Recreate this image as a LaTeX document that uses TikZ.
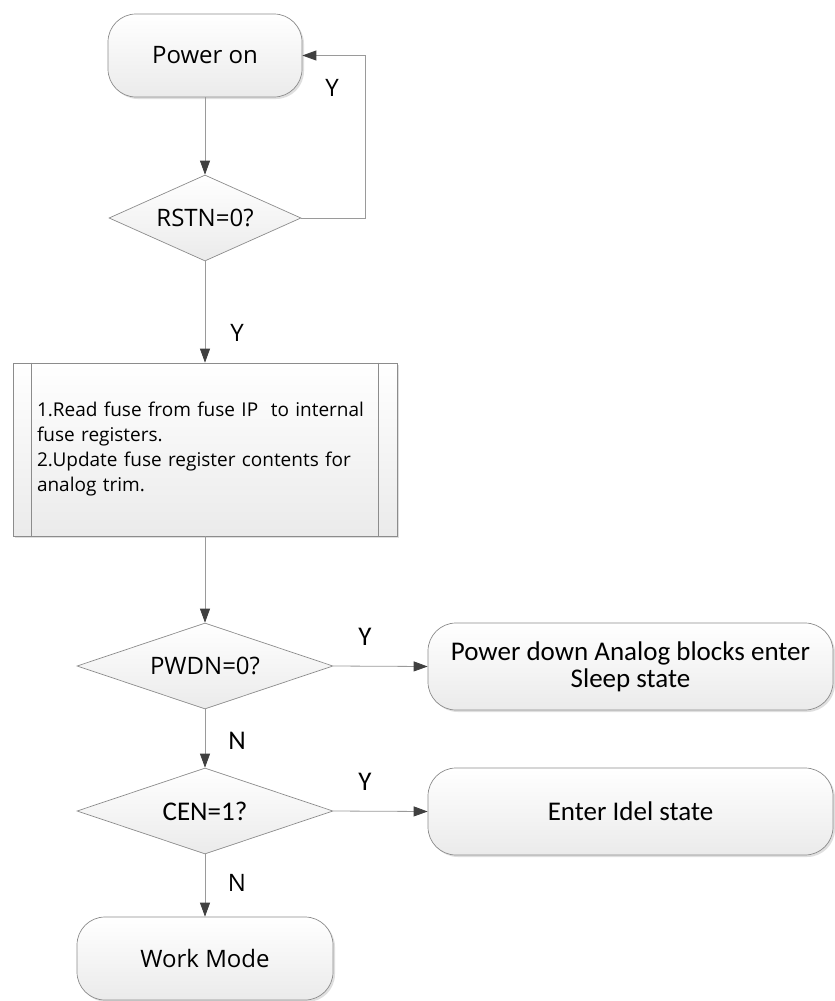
\documentclass[tikz,border=0pt]{standalone}
\usepackage{fontspec}
\newfontfamily\segfont{Open Sans}
\newfontfamily\calfontx{Carlito}
\usetikzlibrary{shapes.geometric,arrows.meta,shadows}
\definecolor{linegray}{HTML}{9A9A9A}
\definecolor{tipgray}{HTML}{404040}
\definecolor{edgegray}{HTML}{8C8C8C}
\begin{document}
\begin{tikzpicture}[x=1pt,y=-1pt,
  base/.style={draw=edgegray, line width=0.7pt, top color=white, bottom color=black!8, inner sep=0pt},
  term/.style={base, rectangle, rounded corners=28pt, drop shadow={shadow xshift=2pt, shadow yshift=-2pt, fill=black!25, opacity=0.5}},
  dec/.style={base, diamond, shape aspect=3, minimum width=256pt, minimum height=86pt},
  procbox/.style={base, rectangle, minimum width=384pt, minimum height=173pt, drop shadow={shadow xshift=2pt, shadow yshift=-2pt, fill=black!25, opacity=0.5}},
  conn/.style={draw=linegray, line width=0.8pt, -{Triangle[length=14pt, width=10pt, color=tipgray]}},
  segf/.style={font=\segfont\fontsize{24}{28}\selectfont},
  calf/.style={font=\calfontx\fontsize{27}{30}\selectfont},
]
\useasboundingbox (0,0) rectangle (835,1001);
\node[term, minimum width=194pt, minimum height=83pt, segf] (poweron) at (205,55.5) {Power on};
\node[dec, shape aspect=2.2, minimum width=192pt, segf] (rstn) at (205,218) {RSTN=0?};
\node[procbox, text width=336pt, align=left, font=\segfont\fontsize{19}{25}\selectfont] (proc) at (205,449.5)
  {1.Read fuse from fuse IP\ \ to internal\\fuse registers.\\2.Update fuse register contents for\\analog trim.};
\draw[edgegray, line width=0.7pt] ([xshift=19pt]proc.north west) -- ([xshift=19pt]proc.south west);
\draw[edgegray, line width=0.7pt] ([xshift=-19pt]proc.north east) -- ([xshift=-19pt]proc.south east);
\node[dec, segf] (pwdn) at (205,666) {PWDN=0?};
\node[term, minimum width=405pt, minimum height=87pt, align=center, font=\calfontx\fontsize{27}{27}\selectfont] (sleep) at (630.5,666.5) {Power down Analog blocks enter\\Sleep state};
\node[dec, calf] (cen) at (205,811) {CEN=1?};
\node[term, minimum width=405pt, minimum height=87pt, calf] (idle) at (630.5,811.5) {Enter Idel state};
\node[term, minimum width=256pt, minimum height=83pt, segf] (work) at (205,958.5) {Work Mode};
\coordinate (loop) at (365,218);
\draw[conn] (poweron.south) -- (rstn.north);
\draw[conn] (rstn.east) -- (loop) |- (poweron.east);
\draw[conn] (rstn.south) -- (proc.north);
\draw[conn] (proc.south) -- (pwdn.north);
\draw[conn] (pwdn.east) -- (sleep.west);
\draw[conn] (pwdn.south) -- (cen.north);
\draw[conn] (cen.east) -- (idle.west);
\draw[conn] (cen.south) -- (work.north);
\node[segf] (y1) at (332,88) {Y};
\node[segf] (y2) at (237,333) {Y};
\node[calf] (y3) at (365,637) {Y};
\node[calf] (n1) at (237,741) {N};
\node[calf] (y4) at (365,782) {Y};
\node[segf] (n2) at (237,883) {N};
\end{tikzpicture}
\end{document}
